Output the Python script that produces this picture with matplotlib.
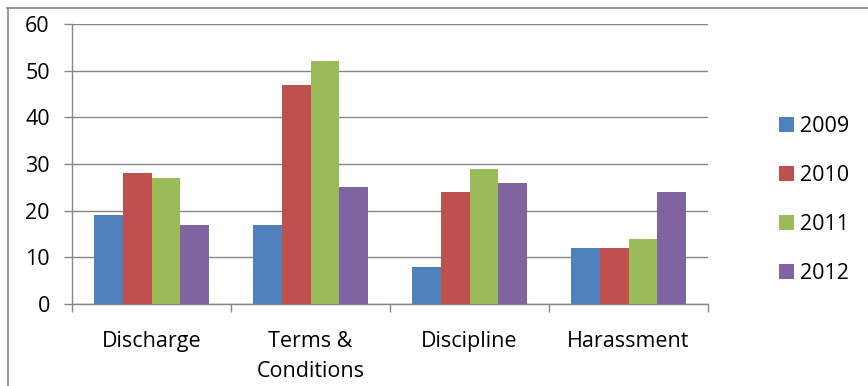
import matplotlib
matplotlib.use("Agg")
import matplotlib.pyplot as plt
from matplotlib.lines import Line2D
import numpy as np

categories = ["Discharge", "Terms &\nConditions", "Discipline", "Harassment"]
years = ["2009", "2010", "2011", "2012"]
values_2009 = [19, 17, 8, 12]
values_2010 = [28, 47, 24, 12]
values_2011 = [27, 52, 29, 14]
values_2012 = [17, 25, 26, 24]
series = [values_2009, values_2010, values_2011, values_2012]
colors = ["#4F81BD", "#C0504D", "#9BBB59", "#8064A2"]
y_ticks = [0, 10, 20, 30, 40, 50, 60]

plt.rcParams["font.family"] = ["Open Sans", "DejaVu Sans"]
FS = 15.5

fig = plt.figure(figsize=(8.68, 3.86), dpi=100)
W, H = 868, 386
ax = fig.add_axes([72 / W, 1 - 304 / H, (708 - 72) / W, (304 - 24) / H])

# chart frame: top and left edges
frame_kw = dict(transform=fig.transFigure, color="#868686", linewidth=1.2)
fig.lines.append(Line2D([7 / W, 1.0], [1 - 7.5 / H, 1 - 7.5 / H], **frame_kw))
fig.lines.append(Line2D([7.5 / W, 7.5 / W], [0.0, 1 - 7.5 / H], **frame_kw))

x = np.arange(len(categories))
bw = 1 / 5.5
for i, (vals, c, yr) in enumerate(zip(series, colors, years)):
    ax.bar(x + (i - 1.5) * bw, vals, width=bw, color=c, label=yr, zorder=3,
           edgecolor="none")

ax.set_xlim(-0.5, len(categories) - 0.5)
ax.set_ylim(0, 60)
ax.set_yticks(y_ticks)
ax.yaxis.grid(True, color="#868686", linewidth=1.0, zorder=0)
ax.set_axisbelow(True)

# category boundaries carry the tick marks, labels sit at centres
ax.set_xticks(np.arange(len(categories) + 1) - 0.5)
ax.set_xticklabels([""] * (len(categories) + 1))
ax.set_xticks(x, minor=True)
ax.set_xticklabels(categories, minor=True, fontsize=FS, linespacing=1.55,
                   va="top")
ax.tick_params(axis="x", which="major", length=6, width=1, color="#868686",
               direction="out")
ax.tick_params(axis="x", which="minor", length=0, pad=19.5)
ax.tick_params(axis="y", length=6, width=1, color="#868686", direction="out",
               labelsize=FS, pad=10)

for s in ["top", "right"]:
    ax.spines[s].set_visible(False)
for s in ["left", "bottom"]:
    ax.spines[s].set_color("#868686")
    ax.spines[s].set_linewidth(1.0)

leg = ax.legend(loc="center left", bbox_to_anchor=(768 / W, 1 - 200 / H),
                bbox_transform=fig.transFigure, frameon=False, fontsize=FS,
                handlelength=0.7, handleheight=0.7, handletextpad=0.3,
                labelspacing=1.3, borderpad=0)

fig.savefig("out.png", dpi=100)
